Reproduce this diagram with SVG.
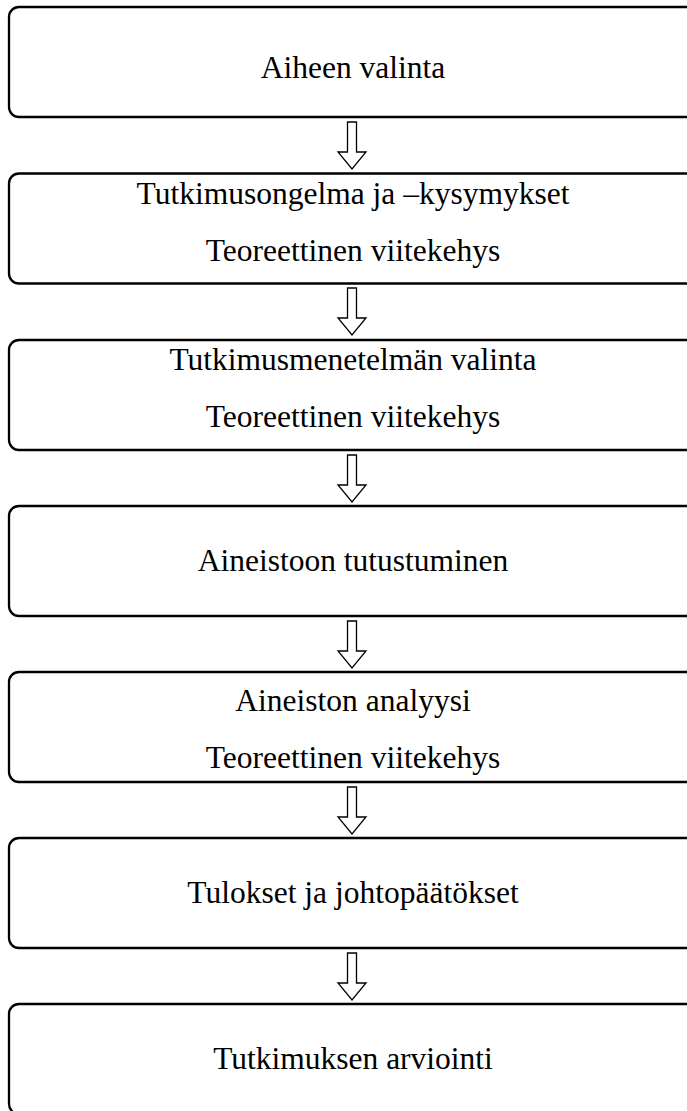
<svg xmlns="http://www.w3.org/2000/svg" width="687" height="1111" viewBox="0 0 687 1111">
<style>
.box{fill:#fff;stroke:#000;stroke-width:2.3}
.arr{fill:#fff;stroke:#000;stroke-width:1.3;stroke-linejoin:miter}
.t{font-family:"Liberation Serif","Times New Roman",serif;font-size:31.5px;text-anchor:middle;fill:#000}
</style>
<defs>
<path id="ar" d="M-4.5,0 H4.5 V30 H14 L0,47 L-14,30 H-4.5 Z"/>
</defs>
<rect width="687" height="1111" fill="#fff"/>
<g id="connectors">
<use href="#ar" class="arr" x="352" y="122"/>
<use href="#ar" class="arr" x="352" y="288"/>
<use href="#ar" class="arr" x="352" y="455"/>
<use href="#ar" class="arr" x="352" y="621"/>
<use href="#ar" class="arr" x="352" y="787"/>
<use href="#ar" class="arr" x="352" y="953"/>
</g>
<g id="n1"><rect class="box" x="9" y="7" width="690" height="110" rx="10"/>
<text class="t" x="353" y="78">Aiheen valinta</text></g>
<g id="n2"><rect class="box" x="9" y="173.5" width="690" height="110" rx="10"/>
<text class="t" x="353" y="203.5">Tutkimusongelma ja –kysymykset</text>
<text class="t" x="353" y="260.5">Teoreettinen viitekehys</text></g>
<g id="n3"><rect class="box" x="9" y="340" width="690" height="110" rx="10"/>
<text class="t" x="353" y="370">Tutkimusmenetelmän valinta</text>
<text class="t" x="353" y="427">Teoreettinen viitekehys</text></g>
<g id="n4"><rect class="box" x="9" y="506" width="690" height="110" rx="10"/>
<text class="t" x="353" y="571">Aineistoon tutustuminen</text></g>
<g id="n5"><rect class="box" x="9" y="672" width="690" height="110" rx="10"/>
<text class="t" x="353" y="711">Aineiston analyysi</text>
<text class="t" x="353" y="768">Teoreettinen viitekehys</text></g>
<g id="n6"><rect class="box" x="9" y="838" width="690" height="110" rx="10"/>
<text class="t" x="353" y="903">Tulokset ja johtopäätökset</text></g>
<g id="n7"><rect class="box" x="9" y="1004" width="690" height="110" rx="10"/>
<text class="t" x="353" y="1069">Tutkimuksen arviointi</text></g>
</svg>
